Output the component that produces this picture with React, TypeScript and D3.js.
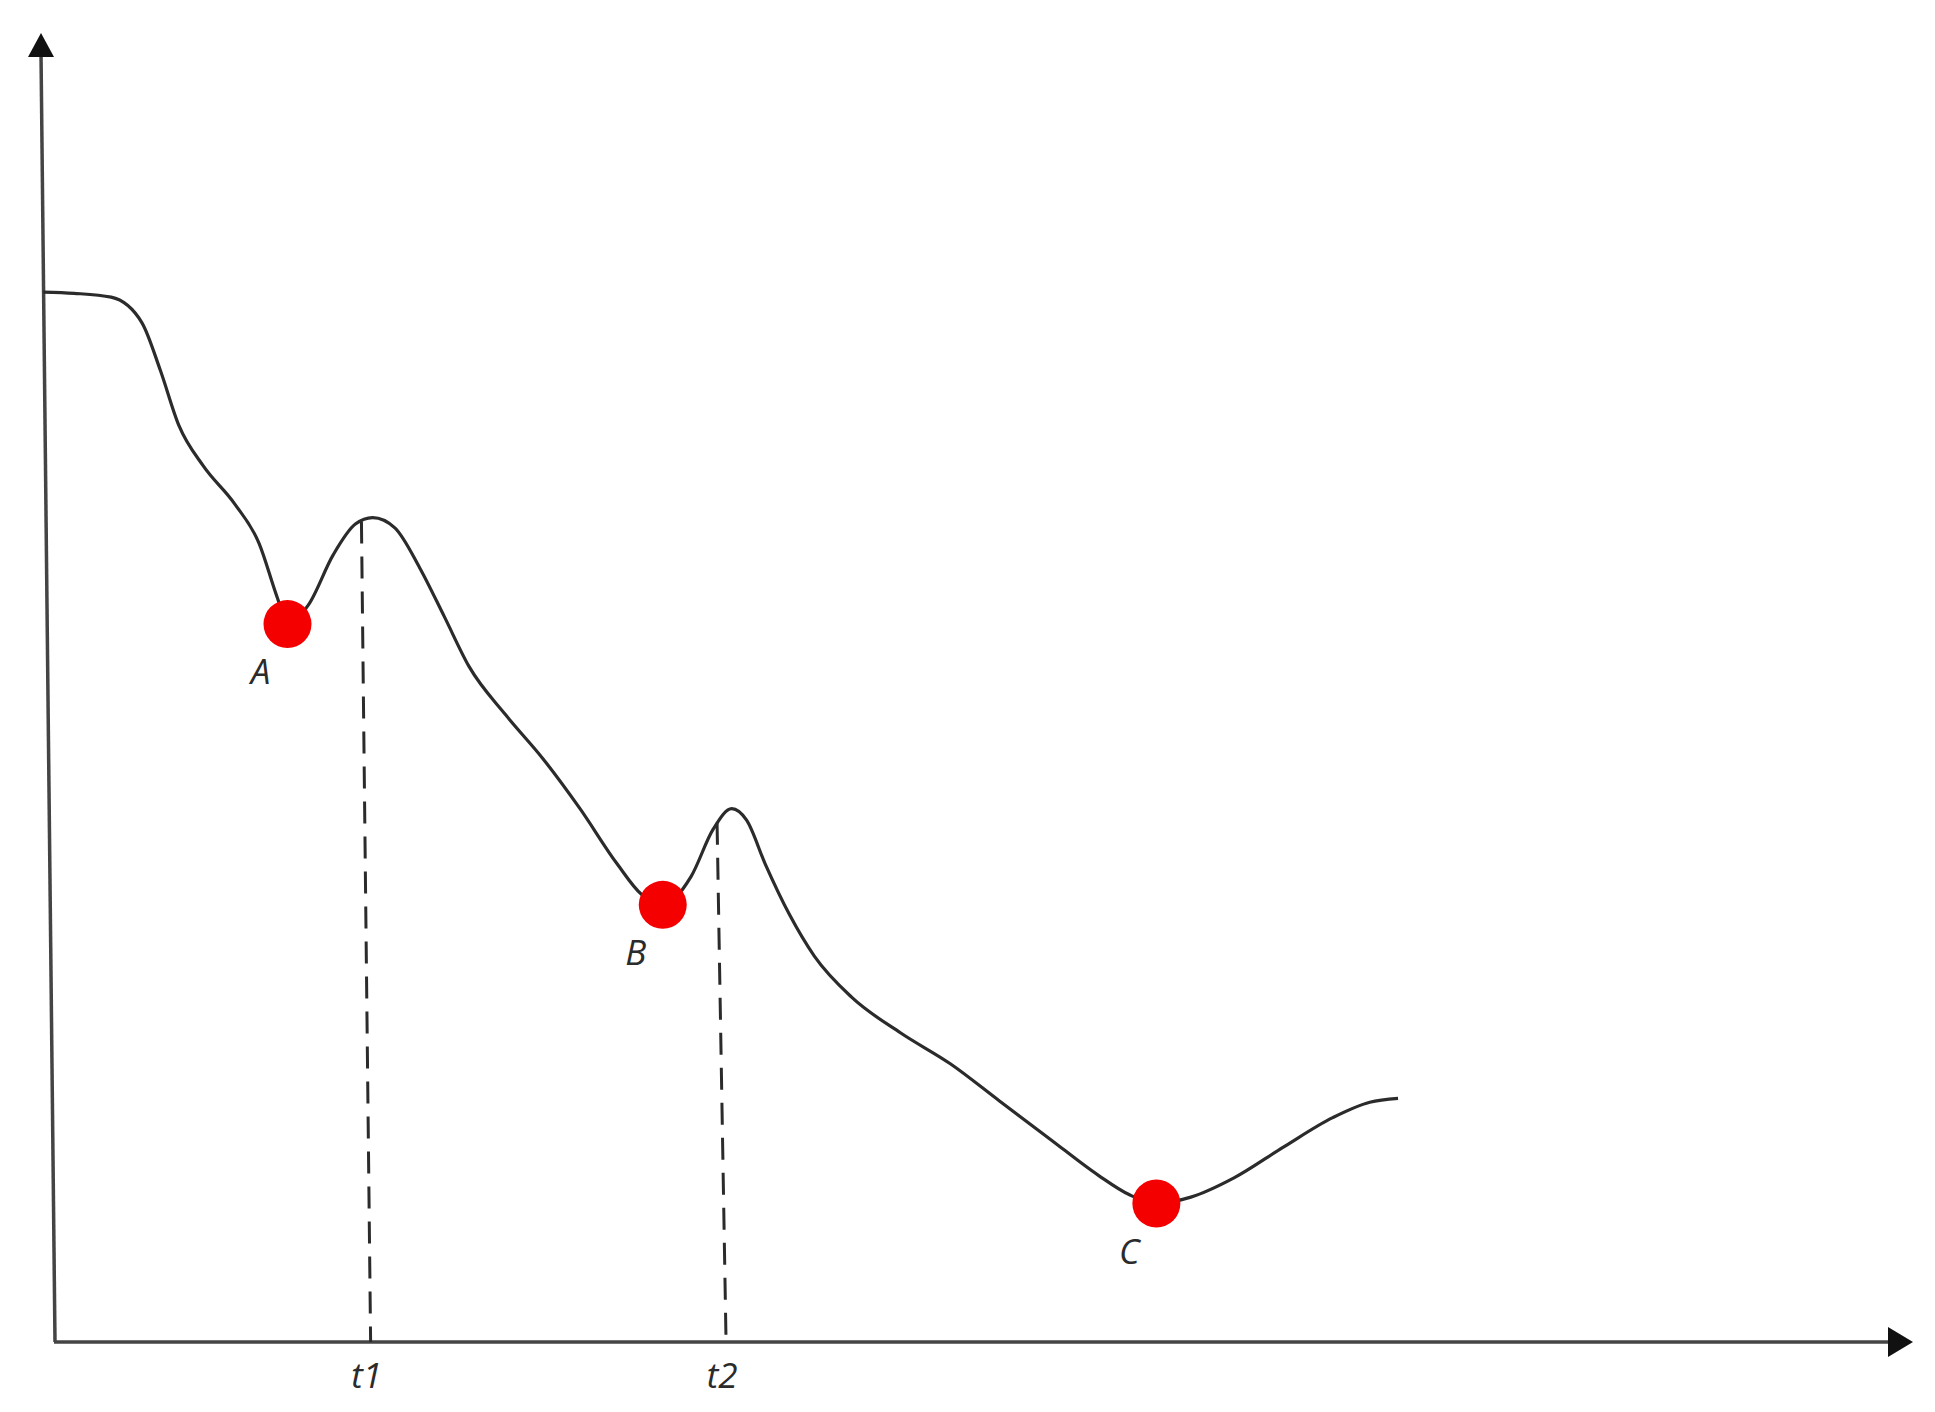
import * as d3 from "d3";
import { useEffect, useRef } from "react";

// ---- data (arbitrary units: time 0..100, value 0..100) ----
const curveX = [-0.64, 1.04, 3.06, 4.74, 5.74, 6.75, 8.1, 9.78, 11.12, 12.13, 12.67, 13.81, 15.16, 16.37, 17.31, 18.52, 19.87, 21.21, 22.56, 24.57, 26.59, 28.61, 30.63, 31.97, 33.12, 34.66, 35.87, 36.88, 37.69, 38.7, 40.04, 41.38, 43.41, 46.09, 48.79, 51.47, 54.16, 56.86, 58.53, 60.02, 61.9, 64.25, 66.94, 69.63, 71.65, 73.19];
const curveY = [81.9, 81.8, 81.5, 79.5, 75.8, 71.5, 68.3, 65.4, 62.3, 58.0, 56.0, 57.5, 61.4, 63.8, 64.3, 63.5, 60.4, 56.6, 52.7, 48.9, 45.5, 41.6, 37.3, 34.9, 34.1, 36.3, 40.0, 41.6, 40.7, 37.3, 33.3, 30.1, 26.9, 24.1, 21.7, 18.8, 15.9, 13.0, 11.5, 10.8, 11.3, 12.8, 15.2, 17.5, 18.7, 19.0];

const pointLabels = ["A", "B", "C"];
const pointX = [12.67, 33.12, 60.02];
const pointY = [56.0, 34.1, 10.8];

const tickLabels = ["t1", "t2"];
const tickTopX = [16.7, 36.08];
const tickBottomX = [17.2, 36.57];
const tickTopY = [64.0, 40.5];

export default function App() {
    const ref = useRef<SVGSVGElement | null>(null);

    useEffect(() => {
        const width = 1935;
        const height = 1412;

        const svg = d3.select(ref.current);
        svg.selectAll("*").remove();

        const x = d3.scaleLinear().domain([0, 100]).range([55, 1890]);
        const y = d3.scaleLinear().domain([0, 100]).range([1342, 60]);

        const ink = "#2b2b2b";

        // ---- axes (hand drawn look: y axis leans slightly) ----
        const axisTop = 33;
        const lean = 14;
        svg.append("line")
            .attr("x1", x(0)).attr("y1", y(0))
            .attr("x2", x(0) - lean).attr("y2", axisTop + 20)
            .attr("stroke", "#444").attr("stroke-width", 3.5);
        svg.append("path")
            .attr("d", `M${x(0) - lean},${axisTop} L${x(0) - lean - 13},${axisTop + 24} L${x(0) - lean + 13},${axisTop + 24} Z`)
            .attr("fill", "#111");

        const xEnd = 1913;
        svg.append("line")
            .attr("x1", x(0) - 1).attr("y1", y(0))
            .attr("x2", xEnd - 20).attr("y2", y(0))
            .attr("stroke", "#444").attr("stroke-width", 3.5);
        svg.append("path")
            .attr("d", `M${xEnd},${y(0)} L${xEnd - 25},${y(0) - 15} L${xEnd - 25},${y(0) + 15} Z`)
            .attr("fill", "#111");

        // ---- dashed guides ----
        svg.append("g")
            .selectAll("line")
            .data(tickLabels)
            .join("line")
            .attr("x1", (_, i) => x(tickTopX[i]))
            .attr("y1", (_, i) => y(tickTopY[i]))
            .attr("x2", (_, i) => x(tickBottomX[i]))
            .attr("y2", y(0))
            .attr("stroke", ink)
            .attr("stroke-width", 3)
            .attr("stroke-dasharray", "22,13");

        // ---- curve ----
        const data = curveX.map((d, i) => [d, curveY[i]] as [number, number]);
        const line = d3.line<[number, number]>()
            .x((d) => x(d[0]))
            .y((d) => y(d[1]))
            .curve(d3.curveMonotoneX);
        svg.append("path")
            .datum(data)
            .attr("d", line)
            .attr("fill", "none")
            .attr("stroke", ink)
            .attr("stroke-width", 3.2);

        // ---- red points ----
        svg.append("g")
            .selectAll("circle")
            .data(pointLabels)
            .join("circle")
            .attr("cx", (_, i) => x(pointX[i]))
            .attr("cy", (_, i) => y(pointY[i]))
            .attr("r", 24)
            .attr("fill", "#f40000");

        // ---- labels ----
        svg.append("g")
            .selectAll("text")
            .data(pointLabels)
            .join("text")
            .attr("x", (_, i) => x(pointX[i]) - 27)
            .attr("y", (_, i) => y(pointY[i]) + 60)
            .attr("text-anchor", "middle")
            .attr("font-family", "'Open Sans', sans-serif")
            .attr("font-style", "italic")
            .attr("font-size", 35)
            .attr("fill", ink)
            .text((d) => d);

        svg.append("g")
            .selectAll("text")
            .data(tickLabels)
            .join("text")
            .attr("x", (_, i) => x(tickBottomX[i]) - 4)
            .attr("y", y(0) + 46)
            .attr("text-anchor", "middle")
            .attr("font-family", "'Open Sans', sans-serif")
            .attr("font-style", "italic")
            .attr("font-size", 35)
            .attr("fill", ink)
            .text((d) => d);

        svg.attr("viewBox", `0 0 ${width} ${height}`);
    }, []);

    return (
        <svg
            ref={ref}
            width={1935}
            height={1412}
            style={{ position: "absolute", left: 0, top: 0, background: "#fff" }}
        />
    );
}
